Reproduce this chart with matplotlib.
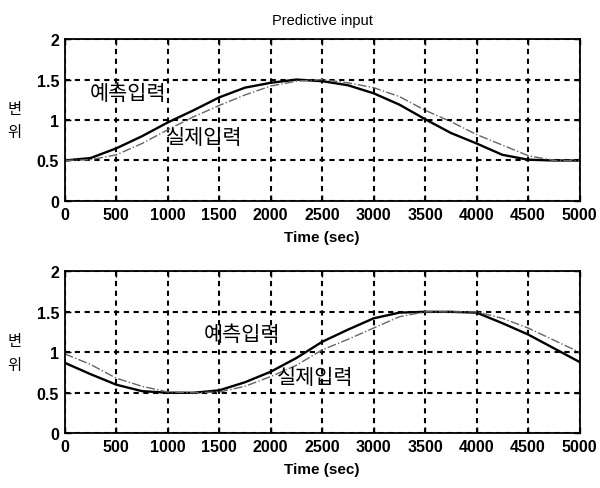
import matplotlib
matplotlib.use("Agg")
import matplotlib.pyplot as plt

# time axis (sec) and values
time_sec = [0, 250, 500, 750, 1000, 1250, 1500, 1750, 2000, 2250, 2500,
            2750, 3000, 3250, 3500, 3750, 4000, 4250, 4500, 4750, 5000]

# upper panel
pred_top = [0.50, 0.53, 0.65, 0.80, 0.97, 1.12, 1.28, 1.40, 1.46, 1.50, 1.48,
            1.43, 1.33, 1.19, 1.01, 0.84, 0.71, 0.57, 0.51, 0.50, 0.50]
real_top = [0.50, 0.51, 0.57, 0.71, 0.88, 1.04, 1.18, 1.31, 1.42, 1.48, 1.50,
            1.46, 1.40, 1.29, 1.12, 0.98, 0.82, 0.69, 0.56, 0.50, 0.50]

# lower panel
pred_bot = [0.87, 0.73, 0.60, 0.52, 0.50, 0.50, 0.53, 0.63, 0.76, 0.93, 1.13,
            1.28, 1.42, 1.49, 1.50, 1.50, 1.49, 1.36, 1.22, 1.05, 0.88]
real_bot = [0.98, 0.85, 0.68, 0.58, 0.51, 0.50, 0.51, 0.58, 0.70, 0.84, 1.03,
            1.16, 1.30, 1.44, 1.50, 1.50, 1.50, 1.42, 1.30, 1.15, 1.00]

x_ticks = [0, 500, 1000, 1500, 2000, 2500, 3000, 3500, 4000, 4500, 5000]
y_ticks = [0, 0.5, 1, 1.5, 2]
y_ticklabels = ["0", "0.5", "1", "1.5", "2"]

kr_font = ["Noto Sans CJK KR", "DejaVu Sans"]
plt.rcParams["font.family"] = ["Liberation Sans", "DejaVu Sans"]

fig = plt.figure(figsize=(6.0, 4.89), dpi=100)
ax_top = fig.add_axes([0.108, 0.587, 0.858, 0.331])
ax_bot = fig.add_axes([0.108, 0.112, 0.858, 0.331])


def style_axes(ax):
    ax.set_xlim(0, 5000)
    ax.set_ylim(0, 2)
    ax.set_xticks(x_ticks)
    ax.set_yticks(y_ticks)
    ax.set_yticklabels(y_ticklabels)
    ax.tick_params(direction="in", length=4, width=1, labelsize=11.5,
                   top=True, right=True, pad=4)
    for lbl in ax.get_xticklabels() + ax.get_yticklabels():
        lbl.set_fontweight("bold")
    ax.grid(True, color="black", linestyle=(0, (2.5, 2.2)), linewidth=1.5)
    for sp in ax.spines.values():
        sp.set_linewidth(1.3)
    ax.set_xlabel("Time (sec)", fontsize=11, fontweight="bold", labelpad=6)
    ax.set_ylabel("변\n위", fontsize=11, family=kr_font, rotation=0,
                  ha="center", va="center", linespacing=1.5)
    ax.yaxis.set_label_coords(-0.098, 0.5)


# top panel
ax_top.plot(time_sec, pred_top, color="black", linewidth=1.7)
ax_top.plot(time_sec, real_top, color="#666666", linewidth=1.0, linestyle="-.")
style_axes(ax_top)
ax_top.set_title("Predictive input", fontsize=10.5, pad=11)
ax_top.text(610, 1.34, "예측입력", family=kr_font, fontsize=15, ha="center", va="center")
ax_top.text(1350, 0.79, "실제입력", family=kr_font, fontsize=15, ha="center", va="center")

# bottom panel
ax_bot.plot(time_sec, pred_bot, color="black", linewidth=1.7)
ax_bot.plot(time_sec, real_bot, color="#666666", linewidth=1.0, linestyle="-.")
style_axes(ax_bot)
ax_bot.text(1720, 1.22, "예측입력", family=kr_font, fontsize=15, ha="center", va="center")
ax_bot.text(2430, 0.69, "실제입력", family=kr_font, fontsize=15, ha="center", va="center")

fig.savefig("out.png", dpi=100, facecolor="white")
